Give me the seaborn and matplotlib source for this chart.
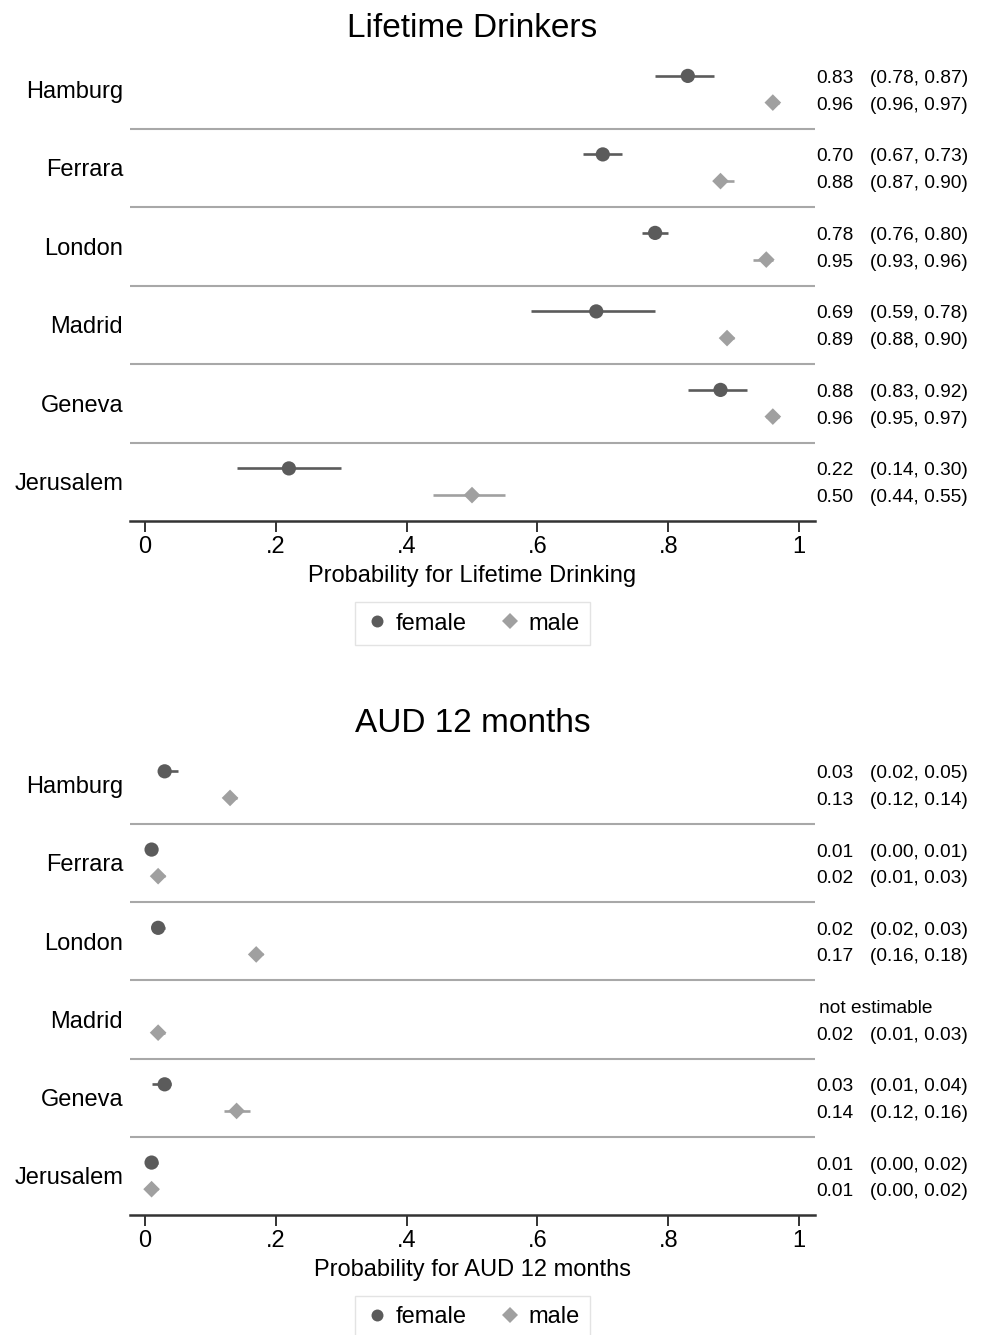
import numpy as np
import pandas as pd
import matplotlib
matplotlib.use("Agg")
import matplotlib.pyplot as plt
import matplotlib.transforms as mtransforms
from matplotlib.lines import Line2D
import seaborn as sns

# ---------------- data ----------------
cities = ["Hamburg", "Ferrara", "London", "Madrid", "Geneva", "Jerusalem"]
sexes = ["female", "male"]

life_f_est = [0.83, 0.70, 0.78, 0.69, 0.88, 0.22]
life_f_lo = [0.78, 0.67, 0.76, 0.59, 0.83, 0.14]
life_f_hi = [0.87, 0.73, 0.80, 0.78, 0.92, 0.30]
life_m_est = [0.96, 0.88, 0.95, 0.89, 0.96, 0.50]
life_m_lo = [0.96, 0.87, 0.93, 0.88, 0.95, 0.44]
life_m_hi = [0.97, 0.90, 0.96, 0.90, 0.97, 0.55]

aud_f_est = [0.03, 0.01, 0.02, np.nan, 0.03, 0.01]
aud_f_lo = [0.02, 0.00, 0.02, np.nan, 0.01, 0.00]
aud_f_hi = [0.05, 0.01, 0.03, np.nan, 0.04, 0.02]
aud_m_est = [0.13, 0.02, 0.17, 0.02, 0.14, 0.01]
aud_m_lo = [0.12, 0.01, 0.16, 0.01, 0.12, 0.00]
aud_m_hi = [0.14, 0.03, 0.18, 0.03, 0.16, 0.02]

x_ticks = [0, 0.2, 0.4, 0.6, 0.8, 1.0]
x_tick_labels = ["0", ".2", ".4", ".6", ".8", "1"]

titles = ["Lifetime Drinkers", "AUD 12 months"]
xlabels = ["Probability for Lifetime Drinking", "Probability for AUD 12 months"]
not_estimable = "not estimable"

# ---------------- style ----------------
sns.set_theme(style="white")
plt.rcParams["font.family"] = ["Liberation Sans", "DejaVu Sans"]
for key in ("text.color", "axes.labelcolor", "xtick.color", "ytick.color"):
    plt.rcParams[key] = "black"

colors = {"female": "#5b5b5b", "male": "#a0a0a0"}
markers = {"female": "o", "male": "D"}
msizes = {"female": 105, "male": 72}
offsets = {"female": 0.33, "male": 0.67}


def build_df(f_est, f_lo, f_hi, m_est, m_lo, m_hi):
    rows = []
    for i, c in enumerate(cities):
        for sex, e, lo, hi in (("female", f_est[i], f_lo[i], f_hi[i]),
                               ("male", m_est[i], m_lo[i], m_hi[i])):
            rows.append(dict(city=c, sex=sex, est=e, lo=lo, hi=hi,
                             ypos=i + offsets[sex]))
    return pd.DataFrame(rows)


dfs = [build_df(life_f_est, life_f_lo, life_f_hi, life_m_est, life_m_lo, life_m_hi),
       build_df(aud_f_est, aud_f_lo, aud_f_hi, aud_m_est, aud_m_lo, aud_m_hi)]

W, H = 983, 1335
fig = plt.figure(figsize=(W / 100, H / 100), dpi=100)

ax_left = 130 / W
ax_w = (815 - 130) / W
panels = [(50, 521), (745.5, 1215)]

for k, (df, (ytop, ybot)) in enumerate(zip(dfs, panels)):
    ax = fig.add_axes([ax_left, 1 - ybot / H, ax_w, (ybot - ytop) / H])

    # confidence interval lines
    for sex in sexes:
        sub = df[(df.sex == sex) & df.est.notna()]
        ax.hlines(sub.ypos, sub.lo, sub.hi, color=colors[sex], lw=1.9, zorder=2)

    sns.scatterplot(data=df.dropna(subset=["est"]), x="est", y="ypos",
                    hue="sex", style="sex", size="sex",
                    hue_order=sexes, style_order=sexes, size_order=sexes,
                    palette=colors, markers=markers, sizes=msizes,
                    edgecolor="none", linewidth=0, legend=False, ax=ax, zorder=3)
    ax.set_xlim(-0.023, 1.0245)
    ax.set_ylim(len(cities), 0)

    # separators
    for i in range(1, len(cities)):
        ax.axhline(i, color="#a8a8a8", lw=1.5, zorder=1)

    ax.set_yticks([i + 0.5 for i in range(len(cities))])
    ax.set_yticklabels(cities, fontsize=17)
    ax.tick_params(axis="y", length=0, pad=5)
    ax.set_xticks(x_ticks)
    ax.set_xticklabels(x_tick_labels, fontsize=17)
    ax.tick_params(axis="x", direction="out", length=8, width=1.4,
                   color="#333333", pad=3, bottom=True)
    ax.set_xlabel(xlabels[k], fontsize=17, labelpad=4.5)
    ax.set_ylabel("")
    ax.set_title(titles[k], fontsize=24, pad=9.5)

    for s in ("top", "right", "left"):
        ax.spines[s].set_visible(False)
    ax.spines["bottom"].set_color("#333333")
    ax.spines["bottom"].set_linewidth(1.8)

    # right-hand annotations
    trans = mtransforms.blended_transform_factory(ax.transAxes, ax.transData)
    for _, r in df.iterrows():
        if np.isnan(r.est):
            ax.annotate(not_estimable, xy=(1, r.ypos), xycoords=trans,
                        xytext=(3, -1.5), textcoords="offset points",
                        ha="left", va="center", fontsize=13.8, annotation_clip=False)
            continue
        ax.annotate(f"{r.est:.2f}", xy=(1, r.ypos), xycoords=trans,
                    xytext=(0.7, -1.8), textcoords="offset points",
                    ha="left", va="center", fontsize=13.8, annotation_clip=False)
        ax.annotate(f"({r.lo:.2f}, {r.hi:.2f})", xy=(1, r.ypos), xycoords=trans,
                    xytext=(39.6, -1.8), textcoords="offset points",
                    ha="left", va="center", fontsize=13.8, annotation_clip=False)

    handles = [Line2D([], [], ls="none", marker=markers[s], color=colors[s],
                      markersize=8.6 if s == "female" else 7.8, markeredgewidth=0,
                      label=s) for s in sexes]
    leg = ax.legend(handles=handles, loc="upper center",
                    bbox_to_anchor=(0.5, -0.172), ncol=2, fontsize=17,
                    frameon=True, fancybox=False, edgecolor="#dddddd",
                    handletextpad=0.3, columnspacing=1.3, handlelength=1.0,
                    borderpad=0.45, borderaxespad=0)
    leg.get_frame().set_linewidth(1.0)

fig.savefig("out.png", dpi=100)
